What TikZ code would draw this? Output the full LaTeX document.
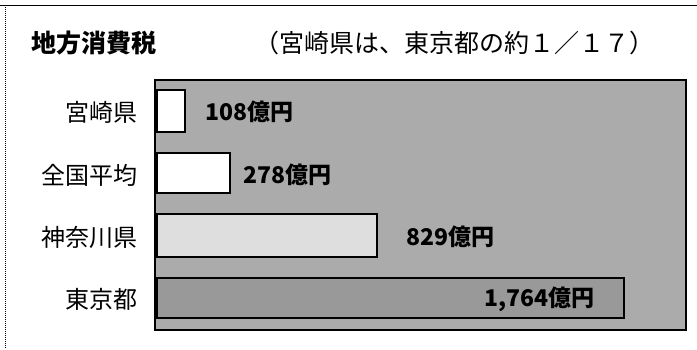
\documentclass[tikz,border=0pt]{standalone}
\usepackage{fontspec}
\setmainfont{Noto Sans CJK JP}
\begin{document}
\begin{tikzpicture}[x=1pt,y=-1pt,
  plotbg/.style={draw=black,line width=1.3pt,fill=black!33},
  whitebar/.style={draw=black,line width=1.3pt,fill=white},
  lightbar/.style={draw=black,line width=1.3pt,fill=black!13},
  darkbar/.style={draw=black,line width=1.3pt,fill=black!40},
  rowlabel/.style={anchor=east,font=\fontsize{24}{24}\selectfont,inner sep=0pt},
  vallabel/.style={anchor=west,font=\fontsize{23}{24}\selectfont\bfseries,inner sep=0pt},
  titlelabel/.style={anchor=west,font=\fontsize{25}{25}\selectfont,inner sep=0pt},
]
\useasboundingbox (0,0) rectangle (697,349);
\fill[white] (0,0) rectangle (697,349);
% outer frame
\draw[line width=1pt] (0,5) -- (697,5);
\draw[line width=1pt,densely dotted] (5,5) -- (5,349);
% titles
\node[titlelabel,font=\fontsize{25}{25}\selectfont\bfseries] (title) at (31,43) {地方消費税};
\node[titlelabel] (subtitle) at (254,43) {（宮崎県は、東京都の約１／１７）};
% plot area
\draw[plotbg] (155,80) rectangle (686,330);
% bars
\draw[whitebar] (157,90) rectangle (185,132);
\draw[whitebar] (157,153) rectangle (230,193);
\draw[lightbar] (157,214) rectangle (377,257);
\draw[darkbar] (157,278) rectangle (624,318);
% row labels
\node[rowlabel] (lmiyazaki) at (138,112) {宮崎県};
\node[rowlabel] (lzenkoku) at (138,175) {全国平均};
\node[rowlabel] (lkanagawa) at (138,237) {神奈川県};
\node[rowlabel] (ltokyo) at (138,299) {東京都};
% value labels
\node[vallabel] (vmiyazaki) at (205,112) {108億円};
\node[vallabel] (vzenkoku) at (243,175) {278億円};
\node[vallabel] (vkanagawa) at (406,237) {829億円};
\node[vallabel] (vtokyo) at (484,299) {1,764億円};
\end{tikzpicture}
\end{document}
